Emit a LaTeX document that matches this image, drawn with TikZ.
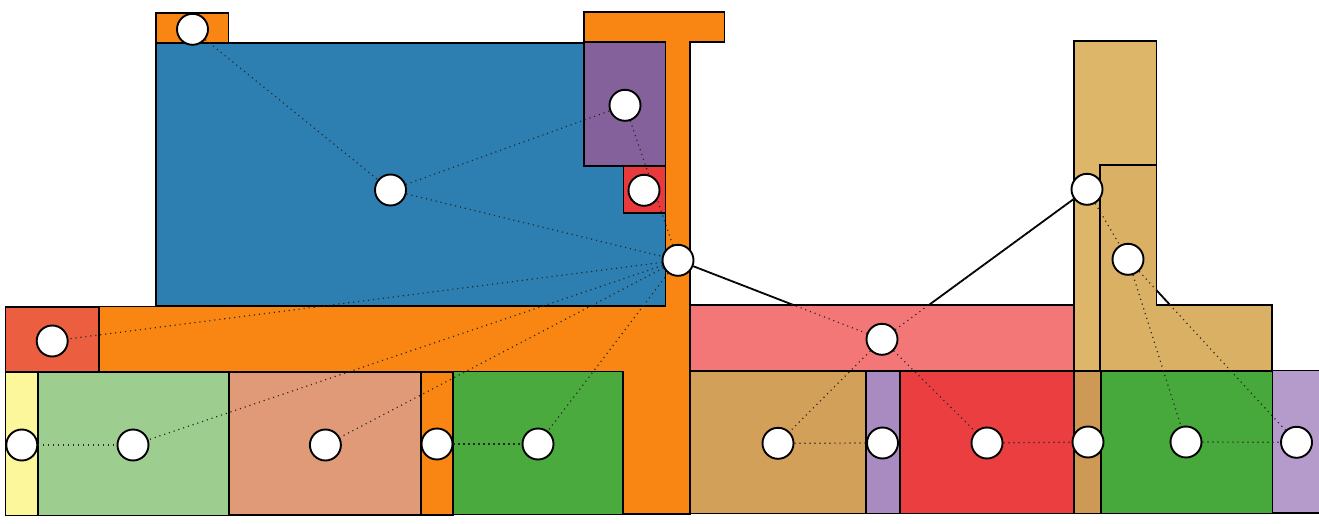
\documentclass[tikz,border=0pt]{standalone}
\usetikzlibrary{backgrounds}
\pgfdeclarelayer{under}
\pgfdeclarelayer{regions}
\pgfdeclarelayer{dots}
\pgfsetlayers{under,regions,dots,main}
\definecolor{corange}{HTML}{F98512}
\definecolor{cblue}{HTML}{2D7FB1}
\definecolor{cpurple}{HTML}{84619A}
\definecolor{credsmall}{HTML}{E8393C}
\definecolor{credorange}{HTML}{EC5E40}
\definecolor{cyellow}{HTML}{FBF79A}
\definecolor{clightgreen}{HTML}{9DCE90}
\definecolor{csalmon}{HTML}{E19A77}
\definecolor{cgreen}{HTML}{4BAA3E}
\definecolor{cpink}{HTML}{F47777}
\definecolor{ctan}{HTML}{D3A05A}
\definecolor{clavmid}{HTML}{A98BC2}
\definecolor{credright}{HTML}{EA3E41}
\definecolor{cdarktan}{HTML}{CE9954}
\definecolor{cgreenright}{HTML}{47A83B}
\definecolor{clavright}{HTML}{B59BCB}
\definecolor{ctalltan}{HTML}{DEB669}
\definecolor{cltan}{HTML}{DAB064}
\tikzset{
  region/.style={draw=black, line width=1.9pt, line join=miter},
  pt/.style={circle, draw=black, fill=white, line width=1.9pt, minimum size=31pt, inner sep=0pt},
  solidedge/.style={draw=black, line width=1.8pt},
  dotedge/.style={draw=black!85, line width=1.2pt, dash pattern=on 1.1pt off 3.9pt}
}
\begin{document}
\begin{tikzpicture}[x=1pt,y=-1pt]
\useasboundingbox (0,0) rectangle (1319,524);
% nodes
\node[pt] (A) at (192.5,29.3) {};
\node[pt] (B) at (390.5,190) {};
\node[pt] (C) at (625,105.3) {};
\node[pt] (D) at (644,190.3) {};
\node[pt] (E) at (678,260.3) {};
\node[pt] (F) at (52.2,341) {};
\node[pt] (G) at (21.8,445) {};
\node[pt] (H) at (133,445) {};
\node[pt] (I) at (325.4,445) {};
\node[pt] (J) at (437,444) {};
\node[pt] (K) at (538,444) {};
\node[pt] (L) at (882,339.3) {};
\node[pt] (M) at (778,443.3) {};
\node[pt] (N) at (882.5,443) {};
\node[pt] (O) at (987,443) {};
\node[pt] (P) at (1088,442) {};
\node[pt] (Q) at (1186,442) {};
\node[pt] (R) at (1296.5,442.3) {};
\node[pt] (S) at (1087,189.3) {};
\node[pt] (T) at (1128,259.3) {};
\def\edgelist{A/B, B/C, B/E, C/E, E/F, E/H, E/I, E/K, E/L, G/H, J/K, L/M, L/O, L/S, M/N, O/P, Q/R, S/T, T/Q, T/R}
\begin{pgfonlayer}{under}
  \foreach \u/\v in \edgelist { \draw[solidedge] (\u) -- (\v); }
\end{pgfonlayer}
\begin{pgfonlayer}{regions}
  % left group
  \draw[region, fill=corange] (584,12) -- (724.5,12) -- (724.5,42) -- (690,42) -- (690,514) -- (623,514) -- (623,372) -- (99,372) -- (99,306.5) -- (665.5,306.5) -- (665.5,42) -- (584,42) -- cycle;
  \draw[region, fill=corange] (156,12.7) rectangle (228.5,42.7);
  \draw[region, fill=cblue] (156,42.7) rectangle (665.5,306);
  \draw[region, fill=cpurple] (584.4,42.3) rectangle (665.5,165.7);
  \draw[region, fill=credsmall] (623.5,165.7) rectangle (665.5,212.7);
  \draw[region, fill=credorange] (5.5,307.3) rectangle (99,372);
  \draw[region, fill=cyellow] (5.5,372) rectangle (38,515.5);
  \draw[region, fill=clightgreen] (38,372) rectangle (229,515.5);
  \draw[region, fill=csalmon] (229,372) rectangle (421,515);
  \draw[region, fill=corange] (421,372) rectangle (453,515);
  \draw[region, fill=cgreen] (453,371.5) rectangle (623,514.5);
  % right group
  \draw[region, fill=ctalltan] (1074,41) rectangle (1156.5,371);
  \draw[region, fill=cltan] (1100.4,164.7) -- (1156.5,164.7) -- (1156.5,304.7) -- (1272.3,304.7) -- (1272.3,371) -- (1100.4,371) -- cycle;
  \draw[region, fill=cpink] (690,305) rectangle (1074,370.8);
  \draw[region, fill=ctan] (690,370.8) rectangle (866,513.5);
  \draw[region, fill=clavmid] (866,370.8) rectangle (899.6,513.5);
  \draw[region, fill=credright] (899.6,370.8) rectangle (1074,513.5);
  \draw[region, fill=cdarktan] (1074,370.8) rectangle (1100.6,513.5);
  \draw[region, fill=cgreenright] (1100.6,370.8) rectangle (1272.5,513.5);
  \draw[region, fill=clavright] (1272.5,370.5) rectangle (1322,513);
\end{pgfonlayer}
\begin{pgfonlayer}{dots}
  \foreach \u/\v in \edgelist { \draw[dotedge] (\u) -- (\v); }
\end{pgfonlayer}
\end{tikzpicture}
\end{document}
